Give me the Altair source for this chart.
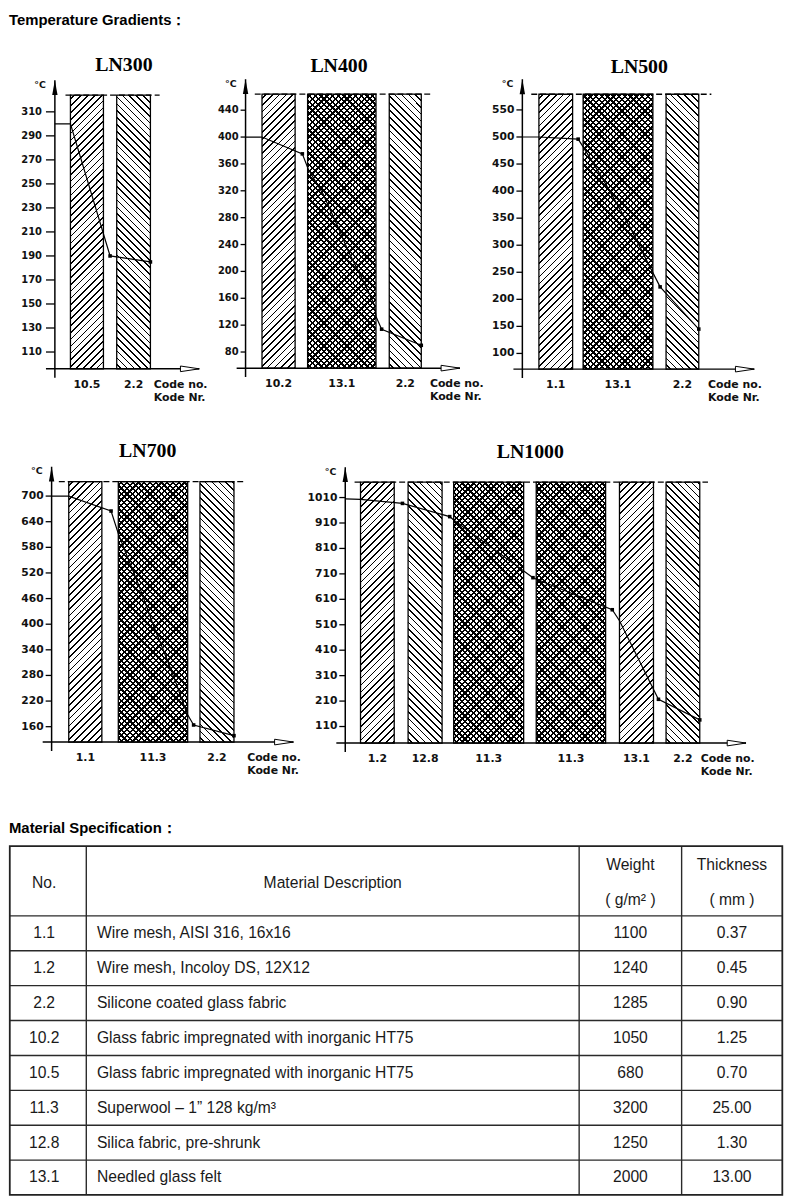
import math
import altair as alt
import pandas as pd

W, H = 782, 1192

# ---------------- chart data ----------------
# x positions are schematic positions across the lining (relative to the temperature axis)
ln300_codes = ["10.5", "2.2"]
ln300_start = [15.7, 62.4]
ln300_end = [49.0, 96.4]
ln300_hatch = ["/", "\\"]
ln300_pos = [0, 15.7, 55.7, 96.4]
ln300_temp = [300, 300, 190, 185]
ln300_dot = [0, 0, 1, 1]
ln300_ticks = [110, 130, 150, 170, 190, 210, 230, 250, 270, 290, 310]
ln300_span = [96, 324]

ln400_codes = ["10.2", "13.1", "2.2"]
ln400_start = [16.6, 62.6, 145.0]
ln400_end = [50.0, 131.6, 177.3]
ln400_hatch = ["/", "x", "\\"]
ln400_pos = [0, 16.6, 57.3, 63.3, 78.3, 93.3, 103.3, 120, 130, 131.6, 137.3, 177.3]
ln400_temp = [400, 400, 375, 352, 315, 266, 231, 182, 150, 133, 114, 90]
ln400_dot = [0, 0, 1, 0, 0, 0, 0, 0, 0, 0, 1, 1]
ln400_ticks = [80, 120, 160, 200, 240, 280, 320, 360, 400, 440]
ln400_span = [56, 464]

ln500_codes = ["1.1", "13.1", "2.2"]
ln500_start = [16.7, 61.3, 145.0]
ln500_end = [50.7, 131.7, 178.0]
ln500_hatch = ["/", "x", "\\"]
ln500_pos = [0, 16.7, 56.3, 62.3, 80.7, 94, 110.7, 124, 132.3, 139, 178]
ln500_temp = [500, 500, 496, 479, 424, 381, 326, 277, 247, 223, 145]
ln500_dot = [0, 0, 1, 0, 0, 0, 0, 0, 0, 1, 1]
ln500_ticks = [100, 150, 200, 250, 300, 350, 400, 450, 500, 550]
ln500_span = [71, 579]

ln700_codes = ["1.1", "11.3", "2.2"]
ln700_start = [17.3, 67.3, 149.7]
ln700_end = [50.7, 137.3, 184.0]
ln700_hatch = ["/", "x", "\\"]
ln700_pos = [0, 17.3, 60, 67.3, 75.7, 89, 102.3, 115.7, 125.7, 134, 137.3, 143.3, 184.0]
ln700_temp = [700, 700, 665, 612, 562, 485, 400, 322, 261, 207, 188, 164, 139]
ln700_dot = [0, 0, 1, 0, 0, 0, 0, 0, 0, 0, 0, 1, 1]
ln700_ticks = [160, 220, 280, 340, 400, 460, 520, 580, 640, 700]
ln700_span = [124, 734]

ln1000_codes = ["1.2", "12.8", "11.3", "11.3", "13.1", "2.2"]
ln1000_start = [15.4, 63.4, 109.4, 192.7, 276.7, 323.7]
ln1000_end = [49.4, 97.7, 180.0, 262.7, 311.0, 357.7]
ln1000_hatch = ["/", "\\", "x", "x", "/", "\\"]
ln1000_pos = [0, 15.4, 57.7, 105.4, 109.4, 189.4, 269.4, 276.7, 316, 357.7]
ln1000_temp = [1005, 1003, 987, 935, 922, 695, 569, 526, 217, 136]
ln1000_dot = [0, 0, 1, 1, 0, 1, 1, 0, 1, 1]
ln1000_ticks = [110, 210, 310, 410, 510, 610, 710, 810, 910, 1010]
ln1000_span = [45, 1071]

# ---------------- table data ----------------
tab_no = ["1.1", "1.2", "2.2", "10.2", "10.5", "11.3", "12.8", "13.1"]
tab_desc = [
    "Wire mesh, AISI 316, 16x16",
    "Wire mesh, Incoloy DS, 12X12",
    "Silicone coated glass fabric",
    "Glass fabric impregnated with inorganic HT75",
    "Glass fabric impregnated with inorganic HT75",
    "Superwool \u2013 1\u201d 128 kg/m\u00b3",
    "Silica fabric, pre-shrunk",
    "Needled glass felt",
]
tab_weight = ["1100", "1240", "1285", "1050", "680", "3200", "1250", "2000"]
tab_thick = ["0.37", "0.45", "0.90", "1.25", "0.70", "25.00", "1.30", "13.00"]
tab_head = ["No.", "Material Description", "Weight", "( g/m\u00b2 )", "Thickness", "( mm )"]

# ---------------- layout (pixels) ----------------
LAYOUT = {
    "LN300": dict(ax=46.3, ay=357.7, k=1.2117, title=(116, 51), tl=9, gap=4, fs=10,
                  tip=145.7, topline=(10.7, 105.7), code_x=99.7),
    "LN400": dict(ax=238.7, ay=357.0, k=0.6778, title=(333, 52), tl=5, gap=2, fs=10,
                  tip=216.3, topline=(9.3, 186.6), code_x=186.0),
    "LN500": dict(ax=518.0, ay=358.0, k=0.546, title=(636, 53), tl=6, gap=2, fs=10.8,
                  tip=234.0, topline=(9.0, 190.7), code_x=187.3),
    "LN700": dict(ax=43.0, ay=734.3, k=0.4309, title=(140, 441), tl=6, gap=2, fs=10.8,
                  tip=244.0, topline=(7.3, 194.0), code_x=197.3),
    "LN1000": dict(ax=339.3, ay=735.3, k=0.2567, title=(526, 442), tl=6, gap=2, fs=10.8,
                   tip=404.4, topline=(9.4, 366.0), code_x=358.7),
}
HATCH_P, HATCH_W = 4.9, 1.2
CROSS_P, CROSS_W = 4.1, 1.6
LABEL_FONT = "DejaVu Sans"
TABLE_FONT = "Liberation Sans, Arial, sans-serif"
HEAD_FONT = "Liberation Sans, Arial, sans-serif"


def hatch_fill(w, h, kind, period, lw, bg, fg):
    r = w / h
    yv = (r + 1) / (r * r + 1)
    xv = r * yv
    L = (w + h) / math.sqrt(2)
    stops = [{"offset": 0, "color": bg}]
    t = period * 0.5
    while t < L - 0.2:
        a = round(t / L, 5)
        b = round(min((t + lw) / L, 1.0), 5)
        stops += [{"offset": a, "color": bg}, {"offset": a, "color": fg},
                  {"offset": b, "color": fg}, {"offset": b, "color": bg}]
        t += period
    stops.append({"offset": 1, "color": bg})
    if kind == "/":
        return {"gradient": "linear", "x1": 0, "y1": 0, "x2": round(xv, 5), "y2": round(yv, 5), "stops": stops}
    return {"gradient": "linear", "x1": 0, "y1": 1, "x2": round(xv, 5), "y2": round(1 - yv, 5), "stops": stops}


def panel(name, codes, start, end, hatch, pos, temp, dot, ticks, span):
    L = LAYOUT[name]
    ax, ay, k = L["ax"], L["ay"], L["k"]
    base, top = span
    xsc = alt.Scale(domain=[-ax, W - ax], nice=False, zero=False)
    ysc = alt.Scale(domain=[base - (H - ay) / k, base + ay / k], nice=False, zero=False)
    X = lambda f: alt.X(f"{f}:Q", scale=xsc, axis=None)
    Y = lambda f: alt.Y(f"{f}:Q", scale=ysc, axis=None)
    layers = []
    bar_h = (top - base) * k
    for s, e, hk in zip(start, end, hatch):
        df = pd.DataFrame({"x": [s], "x2": [e], "y": [base], "y2": [top]})
        enc = dict(x=X("x"), x2="x2:Q", y=Y("y"), y2="y2:Q")
        w = e - s
        if hk == "x":
            layers.append(alt.Chart(df).mark_rect(
                fill=hatch_fill(w, bar_h, "/", CROSS_P, CROSS_W, "white", "black")).encode(**enc))
            layers.append(alt.Chart(df).mark_rect(
                fill=hatch_fill(w, bar_h, "\\", CROSS_P, CROSS_W, "rgba(0,0,0,0)", "black"),
                stroke="black", strokeWidth=1.3).encode(**enc))
        else:
            layers.append(alt.Chart(df).mark_rect(
                fill=hatch_fill(w, bar_h, hk, HATCH_P, HATCH_W, "white", "black"),
                stroke="black", strokeWidth=1.3).encode(**enc))
    # dashed top line
    tl_df = pd.DataFrame({"x": [L["topline"][0]], "x2": [L["topline"][1]], "y": [top]})
    layers.append(alt.Chart(tl_df).mark_rule(color="black", strokeWidth=1.3, strokeDash=[6, 3])
                  .encode(x=X("x"), x2="x2:Q", y=Y("y")))
    # axes with arrows
    tip_t = top + 15 / k
    xa = pd.DataFrame({"x": [-9], "x2": [L["tip"]], "y": [base]})
    layers.append(alt.Chart(xa).mark_rule(color="black", strokeWidth=1.5)
                  .encode(x=X("x"), x2="x2:Q", y=Y("y")))
    ya = pd.DataFrame({"x": [0], "y": [base - 9 / k], "y2": [tip_t]})
    layers.append(alt.Chart(ya).mark_rule(color="black", strokeWidth=1.5)
                  .encode(x=X("x"), y=Y("y"), y2="y2:Q"))
    layers.append(alt.Chart(pd.DataFrame({"x": [0], "y": [tip_t]})).mark_point(
        shape="M0,0L-0.36,2L0.36,2Z", filled=True, color="black", opacity=1, size=225)
        .encode(x=X("x"), y=Y("y")))
    layers.append(alt.Chart(pd.DataFrame({"x": [L["tip"]], "y": [base]})).mark_point(
        shape="M0,0L-2,-0.3L-2,0.3Z", filled=True, fill="white", stroke="black",
        strokeWidth=1, opacity=1, size=361).encode(x=X("x"), y=Y("y")))
    # ticks and labels
    tk = pd.DataFrame({"x": [-L["tl"]] * len(ticks), "x2": [0] * len(ticks), "y": ticks,
                       "t": [str(v) for v in ticks]})
    layers.append(alt.Chart(tk).mark_rule(color="black", strokeWidth=1.3)
                  .encode(x=X("x"), x2="x2:Q", y=Y("y")))
    layers.append(alt.Chart(tk).mark_text(align="right", baseline="middle", font=LABEL_FONT,
                                          fontWeight="bold", fontSize=L["fs"], color="#111",
                                          dx=-(L["tl"] + L["gap"]))
                  .encode(x=X("x2"), y=Y("y"), text="t:N"))
    # temperature profile
    ln = pd.DataFrame({"pos": pos, "temp": temp, "dot": dot})
    layers.append(alt.Chart(ln).mark_line(color="black", strokeWidth=1.2)
                  .encode(x=X("pos"), y=Y("temp")))
    layers.append(alt.Chart(ln[ln["dot"] == 1]).mark_point(
        shape="square", filled=True, color="black", opacity=1, size=13)
        .encode(x=X("pos"), y=Y("temp")))
    # code labels
    cl = pd.DataFrame({"x": [(s + e) / 2 for s, e in zip(start, end)], "y": [base] * len(codes),
                       "t": codes})
    layers.append(alt.Chart(cl).mark_text(align="center", baseline="middle", font=LABEL_FONT,
                                          fontWeight="bold", fontSize=11, color="#111", dy=16)
                  .encode(x=X("x"), y=Y("y"), text="t:N"))
    cn = pd.DataFrame({"x": [L["code_x"]], "y": [base], "a": ["Code  no."], "b": ["Kode  Nr."]})
    layers.append(alt.Chart(cn).mark_text(align="left", baseline="middle", font=LABEL_FONT,
                                          fontWeight="bold", fontSize=11, color="#111", dy=16)
                  .encode(x=X("x"), y=Y("y"), text="a:N"))
    layers.append(alt.Chart(cn).mark_text(align="left", baseline="middle", font=LABEL_FONT,
                                          fontWeight="bold", fontSize=11, color="#111", dy=29)
                  .encode(x=X("x"), y=Y("y"), text="b:N"))
    # title and unit
    tx, ty = L["title"]
    tt = pd.DataFrame({"x": [tx - ax], "y": [base + (ay - ty) / k], "t": [name]})
    layers.append(alt.Chart(tt).mark_text(align="center", baseline="middle",
                                          font="Liberation Serif", fontWeight="bold",
                                          fontSize=20, color="black")
                  .encode(x=X("x"), y=Y("y"), text="t:N"))
    uu = pd.DataFrame({"x": [0], "y": [tip_t - 4.5 / k], "t": ["°C"]})
    layers.append(alt.Chart(uu).mark_text(align="right", baseline="middle", font=LABEL_FONT,
                                          fontWeight="bold", fontSize=9.5, color="#111", dx=-9)
                  .encode(x=X("x"), y=Y("y"), text="t:N"))
    return alt.layer(*layers)


panels = [
    panel("LN300", ln300_codes, ln300_start, ln300_end, ln300_hatch, ln300_pos, ln300_temp,
          ln300_dot, ln300_ticks, ln300_span),
    panel("LN400", ln400_codes, ln400_start, ln400_end, ln400_hatch, ln400_pos, ln400_temp,
          ln400_dot, ln400_ticks, ln400_span),
    panel("LN500", ln500_codes, ln500_start, ln500_end, ln500_hatch, ln500_pos, ln500_temp,
          ln500_dot, ln500_ticks, ln500_span),
    panel("LN700", ln700_codes, ln700_start, ln700_end, ln700_hatch, ln700_pos, ln700_temp,
          ln700_dot, ln700_ticks, ln700_span),
    panel("LN1000", ln1000_codes, ln1000_start, ln1000_end, ln1000_hatch, ln1000_pos,
          ln1000_temp, ln1000_dot, ln1000_ticks, ln1000_span),
]

# ---------------- table ----------------
TAB_TOP, ROW = 839.3, 35.2
COLS = [-7, 78, 575.3, 678.7, 780.3]
LEFT_EDGE = 0.8
TFS = 15.8
txs = alt.Scale(domain=[0, W], nice=False, zero=False)
tys = alt.Scale(domain=[-TAB_TOP / ROW, (H - TAB_TOP) / ROW], reverse=True, nice=False, zero=False)
TX = lambda f: alt.X(f"{f}:Q", scale=txs, axis=None)
TY = lambda f: alt.Y(f"{f}:Q", scale=tys, axis=None)
centers = [(COLS[i] + COLS[i + 1]) / 2 for i in range(4)]
n_rows = len(tab_no)
bottom = 2 + n_rows

t_layers = []
hl = pd.DataFrame({"y": [2 + i for i in range(n_rows)][1:] + [2], "x": LEFT_EDGE, "x2": COLS[-1]})
t_layers.append(alt.Chart(hl).mark_rule(color="#2a2a2a", strokeWidth=1.4)
                .encode(x=TX("x"), x2="x2:Q", y=TY("y")))
vl = pd.DataFrame({"x": COLS[1:-1], "y": 0, "y2": bottom})
t_layers.append(alt.Chart(vl).mark_rule(color="#2a2a2a", strokeWidth=1.4)
                .encode(x=TX("x"), y=TY("y"), y2="y2:Q"))
ob = pd.DataFrame({"x": [LEFT_EDGE], "x2": [COLS[-1]], "y": [0], "y2": [bottom]})
t_layers.append(alt.Chart(ob).mark_rect(fill=None, stroke="#222", strokeWidth=1.8)
                .encode(x=TX("x"), x2="x2:Q", y=TY("y"), y2="y2:Q"))

head = pd.DataFrame({
    "x": [centers[0], centers[1], centers[2], centers[2], centers[3], centers[3]],
    "y": [1.07, 1.07, 0.55, 1.545, 0.55, 1.545],
    "t": tab_head,
})
t_layers.append(alt.Chart(head).mark_text(align="center", baseline="middle", font=TABLE_FONT,
                                          fontSize=TFS, color="#1a1a1a")
                .encode(x=TX("x"), y=TY("y"), text="t:N"))
body_y = [2.5 + i for i in range(n_rows)]
for col, vals, align in [(centers[0], tab_no, "center"), (COLS[1] + 10.7, tab_desc, "left"),
                         (centers[2], tab_weight, "center"), (centers[3], tab_thick, "center")]:
    df = pd.DataFrame({"x": [col] * n_rows, "y": body_y, "t": vals})
    t_layers.append(alt.Chart(df).mark_text(align=align, baseline="middle", font=TABLE_FONT,
                                            fontSize=TFS, color="#1a1a1a")
                    .encode(x=TX("x"), y=TY("y"), text="t:N"))
hd = pd.DataFrame({"x": [0, 0], "y": [(6 - TAB_TOP) / ROW, (821 - TAB_TOP) / ROW],
                   "t": ["Temperature Gradients\uff1a", "Material Specification\uff1a"]})
t_layers.append(alt.Chart(hd).mark_text(align="left", baseline="middle", font=HEAD_FONT,
                                        fontWeight="bold", fontSize=15, color="black")
                .encode(x=TX("x"), y=TY("y"), text="t:N"))
table = alt.layer(*t_layers)

chart = (
    alt.layer(*panels, table)
    .resolve_scale(x="independent", y="independent")
    .properties(width=W, height=H, padding=0, background="white")
    .configure_view(stroke=None)
)

chart.save("out.html", embed_options={"renderer": "svg", "actions": False})
